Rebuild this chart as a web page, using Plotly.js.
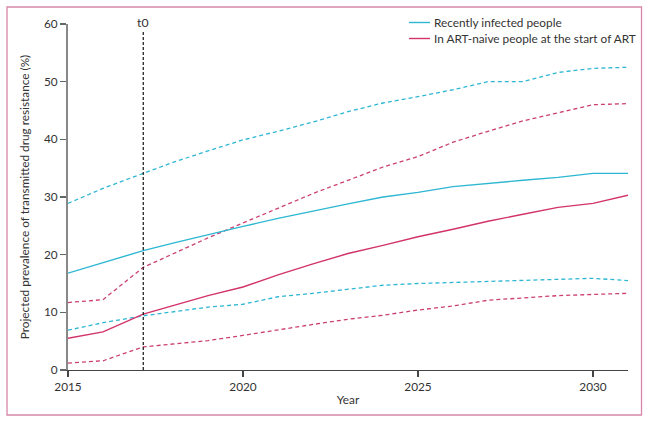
<!DOCTYPE html>
<html>
<head>
<meta charset="utf-8">
<script src="https://cdn.plot.ly/plotly-3.0.1.min.js"></script>
<style>
html,body{margin:0;padding:0;background:#fff;}
#chart{width:648px;height:422px;}
</style>
</head>
<body>
<div id="chart"></div>
<script>
// Years (t0 falls just after 2017)
const T0 = 2017.15;
const years = [2015, 2016, T0, 2018, 2019, 2020, 2021, 2022, 2023, 2024, 2025, 2026, 2027, 2028, 2029, 2030, 2031];

// Recently infected people
const recentMid   = [16.8, 18.6, 20.7, 22.0, 23.5, 24.9, 26.3, 27.6, 28.8, 30.0, 30.8, 31.8, 32.4, 32.9, 33.4, 34.1, 34.1];
const recentUpper = [28.9, 31.5, 34.1, 36.0, 38.0, 39.9, 41.4, 43.0, 44.8, 46.3, 47.4, 48.6, 50.0, 50.0, 51.6, 52.3, 52.5];
const recentLower = [6.9, 8.2, 9.4, 10.1, 10.9, 11.4, 12.7, 13.3, 14.0, 14.7, 15.0, 15.2, 15.3, 15.6, 15.8, 15.9, 15.5];

// ART-naive people at the start of ART
const naiveMid    = [5.5, 6.6, 9.7, 11.2, 12.9, 14.4, 16.5, 18.4, 20.2, 21.6, 23.1, 24.4, 25.8, 27.0, 28.2, 28.9, 30.3];
const naiveUpper  = [11.7, 12.2, 17.8, 20.2, 22.9, 25.5, 28.0, 30.6, 32.9, 35.2, 37.0, 39.5, 41.4, 43.2, 44.6, 46.0, 46.2];
const naiveLower  = [1.2, 1.6, 4.0, 4.5, 5.1, 6.0, 7.0, 7.9, 8.8, 9.5, 10.4, 11.1, 12.1, 12.5, 12.9, 13.1, 13.3];

const seriesNames = ["Recently infected people", "In ART-naive people at the start of ART"];
const xTicks = [2015, 2020, 2025, 2030];
const yTicks = [0, 10, 20, 30, 40, 50, 60];

const CYAN = "#2db7d3";
const RED = "#d2336a";
const RED_D = "#cc3f74";
const FONT = "Lato, Noto Sans, sans-serif";
const FS = 11.8;
const TXT = "#333";

const traces = [
  {x: years, y: recentUpper, mode: "lines", line: {color: CYAN, width: 1.3, dash: "4px,3px"}, showlegend: false, hoverinfo: "skip"},
  {x: years, y: naiveUpper, mode: "lines", line: {color: RED_D, width: 1.3, dash: "4px,3px"}, showlegend: false, hoverinfo: "skip"},
  {x: years, y: recentLower, mode: "lines", line: {color: CYAN, width: 1.3, dash: "4px,3px"}, showlegend: false, hoverinfo: "skip"},
  {x: years, y: naiveLower, mode: "lines", line: {color: RED_D, width: 1.3, dash: "4px,3px"}, showlegend: false, hoverinfo: "skip"},
  {x: years, y: recentMid, mode: "lines", name: seriesNames[0], showlegend: false, line: {color: CYAN, width: 1.4}},
  {x: years, y: naiveMid, mode: "lines", name: seriesNames[1], showlegend: false, line: {color: RED, width: 1.4}}
];

// plot area: x 68..628 px, y 24..370 px
const px2x = p => (p - 68) / 560;
const py2y = p => (370 - p) / 346;
const legendRows = [{name: seriesNames[0], color: CYAN, py: 22.5}, {name: seriesNames[1], color: RED, py: 38.5}];

const shapes = [
  {type: "line", xref: "x", yref: "y", x0: T0, x1: T0, y0: 0, y1: 58.8, line: {color: "#111", width: 1.2, dash: "3px,2px"}},
  {type: "rect", xref: "paper", yref: "paper", x0: px2x(7), x1: px2x(641.5), y0: py2y(415), y1: py2y(7), line: {color: "#d886a8", width: 1.3}, fillcolor: "rgba(0,0,0,0)", layer: "below"}
];
const annotations = [
  {x: T0, y: py2y(22.5), xref: "x", yref: "paper", text: "t0", showarrow: false, yanchor: "middle", font: {family: FONT, size: FS + 0.5, color: TXT}}
];
legendRows.forEach(r => {
  shapes.push({type: "line", xref: "paper", yref: "paper", x0: px2x(409), x1: px2x(430), y0: py2y(r.py), y1: py2y(r.py), line: {color: r.color, width: 1.4}});
  annotations.push({x: px2x(432), y: py2y(r.py), xref: "paper", yref: "paper", text: r.name, showarrow: false, xanchor: "left", yanchor: "middle", font: {family: FONT, size: FS, color: TXT}});
});

const layout = {
  width: 648, height: 422,
  margin: {l: 68, r: 20, t: 24, b: 52},
  paper_bgcolor: "#fff", plot_bgcolor: "#fff",
  font: {family: FONT, size: FS, color: TXT},
  showlegend: false,
  xaxis: {
    range: [2015, 2031], tickvals: xTicks, ticktext: xTicks.map(String),
    showgrid: false, zeroline: false, showline: true, linecolor: "#444", linewidth: 1.3,
    ticks: "outside", ticklen: 6, tickcolor: "#444", tickwidth: 1.2,
    tickfont: {family: FONT, size: FS, color: TXT},
    title: {text: "Year", font: {family: FONT, size: FS, color: TXT}, standoff: 2}
  },
  yaxis: {
    range: [0, 60], tickvals: yTicks,
    showgrid: false, zeroline: false, showline: true, linecolor: "#888", linewidth: 2,
    ticks: "outside", ticklen: 6, tickcolor: "#666", tickwidth: 1.2,
    tickfont: {family: FONT, size: FS, color: TXT},
    title: {text: "Projected prevalence of transmitted drug resistance (%)", font: {family: FONT, size: FS, color: TXT}, standoff: 12}
  },
  shapes: shapes,
  annotations: annotations
};

Plotly.newPlot("chart", traces, layout, {displayModeBar: false, staticPlot: true});
</script>
</body>
</html>
